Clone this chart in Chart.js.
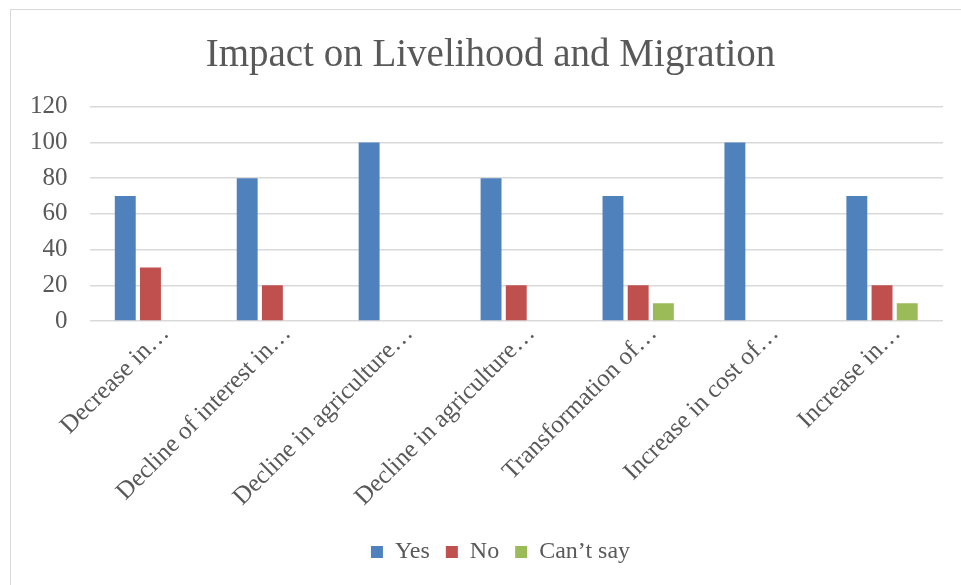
<!DOCTYPE html>
<html>
<head>
<meta charset="utf-8">
<script src="https://cdn.jsdelivr.net/npm/chart.js@4/dist/chart.umd.min.js"></script>
<style>
  html, body { margin: 0; padding: 0; background: #ffffff; overflow: hidden; }
  #frame { position: absolute; left: 10px; top: 9px; width: 1000px; height: 1000px; border: 1px solid #d9d9d9; }
  #wrap { position: absolute; left: 0; top: 0; width: 961px; height: 585px; }
</style>
</head>
<body>
<div id="frame"></div>
<div id="wrap"><canvas id="livelihood-chart"></canvas></div>
<script>
// Chart data
const categories = [
  'Decrease in…',
  'Decline of interest in…',
  'Decline in agriculture…',
  'Decline in agriculture…',
  'Transformation of…',
  'Increase in cost of…',
  'Increase in…'
];
const yesValues = [70, 80, 100, 80, 70, 100, 70];
const noValues = [30, 20, 0, 20, 20, 0, 20];
const cantSayValues = [0, 0, 0, 0, 10, 0, 10];
const yTicks = [0, 20, 40, 60, 80, 100, 120];

const textColor = '#595959';
const fontFamily = '"Liberation Serif", "DejaVu Serif", serif';

// nudge title and legend sideways to sit where the original has them
const boxShift = {
  id: 'boxShift',
  afterLayout(chart) {
    const shift = (box, dx) => { if (box) { box.left += dx; box.right += dx; } };
    shift(chart.titleBlock, 15);
    shift(chart.legend, 25);
  }
};

/**
 * Render grouped bar chart
 */
function renderLivelihoodChart() {
  const canvas = document.getElementById('livelihood-chart');
  if (!canvas || typeof Chart === 'undefined') return;

  const ctx = canvas.getContext('2d');
  const barStyle = { categoryPercentage: 0.62, barPercentage: 0.83, borderWidth: 0 };

  new Chart(ctx, {
    type: 'bar',
    data: {
      labels: categories,
      datasets: [
        { label: 'Yes', data: yesValues, backgroundColor: '#4F81BD', ...barStyle },
        { label: 'No', data: noValues, backgroundColor: '#C0504D', ...barStyle },
        { label: 'Can\u2019t say', data: cantSayValues, backgroundColor: '#9BBB59', ...barStyle }
      ]
    },
    options: {
      responsive: true,
      maintainAspectRatio: false,
      animation: false,
      layout: {
        autoPadding: false,
        padding: { left: 8, right: 18, top: 22, bottom: 11 }
      },
      plugins: {
        title: {
          display: true,
          text: 'Impact on Livelihood and Migration',
          color: textColor,
          font: { family: fontFamily, size: 39, weight: 'normal' },
          padding: { top: 10, bottom: 28 }
        },
        legend: {
          position: 'bottom',
          labels: {
            color: textColor,
            font: { family: fontFamily, size: 24 },
            boxWidth: 12,
            boxHeight: 12,
            padding: 16
          }
        },
        tooltip: { enabled: false }
      },
      scales: {
        x: {
          grid: { display: false },
          border: { display: false },
          afterFit: scale => {
            scale.paddingLeft = 0;
            scale.paddingRight = 0;
            scale.height = 203;
          },
          ticks: {
            color: textColor,
            font: { family: fontFamily, size: 25 },
            autoSkip: false,
            minRotation: 45,
            maxRotation: 45,
            labelOffset: 15,
            padding: -10
          }
        },
        y: {
          min: 0,
          max: 120,
          afterBuildTicks: axis => { axis.ticks = yTicks.map(v => ({ value: v })); },
          grid: { color: '#d9d9d9', lineWidth: 1.5, drawTicks: false },
          border: { display: false },
          ticks: {
            color: textColor,
            font: { family: fontFamily, size: 25 },
            padding: 22
          }
        }
      }
    },
    plugins: [boxShift]
  });
}

renderLivelihoodChart();
</script>
</body>
</html>
